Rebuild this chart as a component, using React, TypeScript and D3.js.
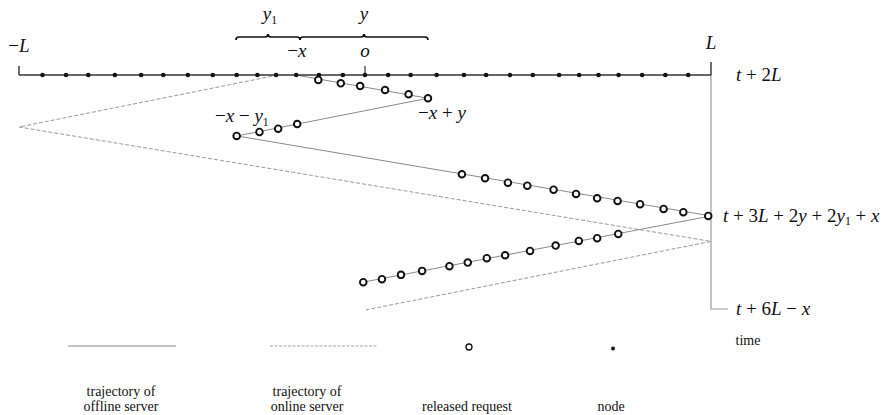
import React, { useEffect, useRef } from 'react';
import * as d3 from 'd3';

// half length of the line, and the three distances marked by the brace
const L = 100;
const xVal = 18.8;
const yVal = 37;
const y1Val = 18.5;

// nodes on the line [-L, L]
const nodePositions = [
  -93.2, -86.4, -80, -72.3, -64.7, -58.3, -51.2, -44, -37.1, -31.1, -25.7, -19.9, -13.3, -6.4, 0,
  6.7, 13.2, 20.7, 28.6, 35, 41.9, 48.5, 56.1, 61.9, 67.5, 73.3, 80.1, 86.8, 93.4,
];

// offline server trajectory (position, time)
const offlinePos = [-20, 18.2, -37, 100, -0.6];
const offlineTime = [200, 237.9, 299.3, 429.6, 537.5];

// online server trajectory (position, time)
const onlinePos = [-25.1, -100, 100, 0.3];
const onlineTime = [200, 284.7, 471.1, 582.6];

// released requests (position, time)
const requestPos = [
  -13.5, -7.0, -1.4, 5.8, 12.6, 18.2,
  -37.1, -30.5, -25.1, -19.6,
  28.0, 34.7, 41.3, 46.9, 54.5, 61.0, 67.1, 73.0, 79.5, 86.3, 92.0, 99.2,
  -0.5, 4.9, 10.4, 16.5, 24.4, 29.7, 35.2, 40.5, 47.7, 55.1, 61.8, 67.1, 73.2,
];
const requestTime = [
  208.1, 213.5, 217.9, 224.4, 231.4, 237.9,
  299.3, 292.8, 287.4, 279.8,
  361.7, 368.2, 375.4, 380.3, 386.8, 393.8, 400.8, 405.1, 410.5, 418.2, 423.5, 429.6,
  537.5, 532.6, 525.6, 519.1, 511.5, 505.6, 498.4, 493.6, 486.6, 477.9, 470.3, 465.9, 458.9,
];

// time marks on the right-hand axis
const timeTicks = [2 * L, 3 * L + 2 * yVal + 2 * y1Val + xVal, 6 * L - xVal];
const S = '\u00a0';
const timeLabels: [string, string][][] = [
  [['t', 'i'], [S + '+' + S, 'r'], ['2', 'r'], ['L', 'i']],
  [['t', 'i'], [S + '+' + S + '3', 'r'], ['L', 'i'], [S + '+' + S + '2', 'r'], ['y', 'i'],
    [S + '+' + S + '2', 'r'], ['y', 'i'], ['1', 's'], [S + '+' + S, 'r'], ['x', 'i']],
  [['t', 'i'], [S + '+' + S + '6', 'r'], ['L', 'i'], [S + '\u2212' + S, 'r'], ['x', 'i']],
];

const legendItems = ['trajectory of|offline server', 'trajectory of|online server', 'released request', 'node'];

const FONT = "'Liberation Serif', 'Times New Roman', serif";

const App = () => {
  const ref = useRef<SVGSVGElement>(null);

  useEffect(() => {
    const svg = d3.select(ref.current);
    svg.selectAll('*').remove();

    const xScale = d3.scaleLinear().domain([-L, L]).range([19, 711]);
    const tScale = d3.scaleLinear().domain([2 * L, 6 * L - xVal]).range([75, 309]);
    const axisY = tScale(2 * L);

    // math label helper: i = italic, r = roman, s = subscript
    const mathText = (x: number, y: number, tokens: [string, string][], size: number, anchor = 'start') => {
      const t = svg.append('text')
        .attr('x', x).attr('y', y)
        .attr('text-anchor', anchor)
        .style('font-family', FONT)
        .style('font-size', size + 'px')
        .attr('fill', '#111');
      let shifted = false;
      tokens.forEach(([s, k]) => {
        const ts = t.append('tspan').text(s);
        if (k === 'i') ts.style('font-style', 'italic');
        if (k === 's') {
          ts.style('font-size', size * 0.62 + 'px').attr('dy', size * 0.2);
          shifted = true;
        } else if (shifted) {
          ts.attr('dy', -size * 0.2);
          shifted = false;
        }
      });
    };

    // time axis on the right
    svg.append('path')
      .attr('d', `M${xScale(L)},${axisY}V${tScale(6 * L - xVal)}h17`)
      .attr('fill', 'none').attr('stroke', '#999').attr('stroke-width', 1.2);

    // online server (dashed)
    svg.append('path')
      .attr('d', d3.line<number>().x((d) => xScale(onlinePos[d])).y((d) => tScale(onlineTime[d]))(d3.range(onlinePos.length)))
      .attr('fill', 'none').attr('stroke', '#9a9a9a').attr('stroke-width', 1).attr('stroke-dasharray', '4,2');

    // offline server (solid)
    svg.append('path')
      .attr('d', d3.line<number>().x((d) => xScale(offlinePos[d])).y((d) => tScale(offlineTime[d]))(d3.range(offlinePos.length)))
      .attr('fill', 'none').attr('stroke', '#8a8a8a').attr('stroke-width', 1);

    // the line [-L, L]
    svg.append('line')
      .attr('x1', xScale(-L)).attr('x2', xScale(L)).attr('y1', axisY).attr('y2', axisY)
      .attr('stroke', '#333').attr('stroke-width', 1.6);
    svg.append('line')
      .attr('x1', xScale(-L)).attr('x2', xScale(-L)).attr('y1', axisY - 9).attr('y2', axisY)
      .attr('stroke', '#333').attr('stroke-width', 1.4);
    svg.append('line')
      .attr('x1', xScale(L)).attr('x2', xScale(L)).attr('y1', axisY - 13).attr('y2', axisY)
      .attr('stroke', '#333').attr('stroke-width', 1.4);
    svg.append('line')
      .attr('x1', xScale(0)).attr('x2', xScale(0)).attr('y1', axisY - 9).attr('y2', axisY)
      .attr('stroke', '#333').attr('stroke-width', 1.2);

    // nodes
    svg.selectAll('.node')
      .data(nodePositions)
      .enter().append('circle')
      .attr('cx', (d) => xScale(d)).attr('cy', axisY).attr('r', 2.3)
      .attr('fill', '#111');

    // released requests
    svg.selectAll('.req')
      .data(requestPos)
      .enter().append('circle')
      .attr('cx', (d) => xScale(d)).attr('cy', (d, i) => tScale(requestTime[i])).attr('r', 3.3)
      .attr('fill', '#fff').attr('stroke', '#111').attr('stroke-width', 1.9);

    // brace over [-x-y1, -x+y]
    const by = 37;
    const h = 3;
    const brace = (x0: number, x1: number) => {
      const xm = (x0 + x1) / 2;
      return `M${x0},${by + h}Q${x0},${by} ${x0 + h},${by}L${xm - h},${by}Q${xm},${by} ${xm},${by - h}` +
        `Q${xm},${by} ${xm + h},${by}L${x1 - h},${by}Q${x1},${by} ${x1},${by + h}`;
    };
    const bLeft = xScale(-xVal - y1Val);
    const bMid = xScale(-xVal);
    const bRight = xScale(-xVal + yVal);
    svg.append('path').attr('d', brace(bLeft, bMid) + brace(bMid, bRight))
      .attr('fill', 'none').attr('stroke', '#111').attr('stroke-width', 1.7);

    // labels
    mathText(xScale(-L), 52, [['\u2212', 'r'], ['L', 'i']], 19, 'middle');
    mathText(xScale(L), 49, [['L', 'i']], 19, 'middle');
    mathText((bLeft + bMid) / 2 + 2, 20, [['y', 'i'], ['1', 's']], 19, 'middle');
    mathText((bMid + bRight) / 2, 20, [['y', 'i']], 19, 'middle');
    mathText(bMid - 3, 57, [['\u2212', 'r'], ['x', 'i']], 19, 'middle');
    mathText(xScale(0), 57, [['o', 'i']], 19, 'middle');
    mathText(215, 122, [['\u2212', 'r'], ['x', 'i'], [S + '\u2212' + S, 'r'], ['y', 'i'], ['1', 's']], 19);
    mathText(418, 119, [['\u2212', 'r'], ['x', 'i'], [S + '+' + S, 'r'], ['y', 'i']], 19);

    timeTicks.forEach((tv, i) => {
      mathText(xScale(L) + (i === 1 ? 12 : 25), tScale(tv) + 5.5, timeLabels[i], 19);
    });

    // legend
    const ly = 346;
    svg.append('line').attr('x1', 68).attr('x2', 176).attr('y1', ly).attr('y2', ly)
      .attr('stroke', '#8a8a8a').attr('stroke-width', 1);
    svg.append('line').attr('x1', 270).attr('x2', 377).attr('y1', ly).attr('y2', ly)
      .attr('stroke', '#a5a5a5').attr('stroke-width', 1).attr('stroke-dasharray', '3,1.5');
    svg.append('circle').attr('cx', 469).attr('cy', ly + 1).attr('r', 3)
      .attr('fill', '#fff').attr('stroke', '#111').attr('stroke-width', 1.3);
    svg.append('circle').attr('cx', 613).attr('cy', ly + 2.5).attr('r', 2)
      .attr('fill', '#111');
    svg.append('text').attr('x', 748).attr('y', 345).attr('text-anchor', 'middle')
      .style('font-family', FONT).style('font-size', '14px').attr('fill', '#111').text('time');

    const legendX = [121, 307, 467, 611];
    legendItems.forEach((lab, i) => {
      const rows = lab.split('|');
      rows.forEach((r, j) => {
        svg.append('text')
          .attr('x', legendX[i])
          .attr('y', 411 - (rows.length - 1 - j) * 15.5)
          .attr('text-anchor', 'middle')
          .style('font-family', FONT).style('font-size', '14px').attr('fill', '#111')
          .text(r);
      });
    });
  }, []);

  return (
    <svg
      ref={ref}
      width={895}
      height={415}
      style={{ position: 'absolute', left: 0, top: 0, background: '#fff' }}
    />
  );
};

export default App;
